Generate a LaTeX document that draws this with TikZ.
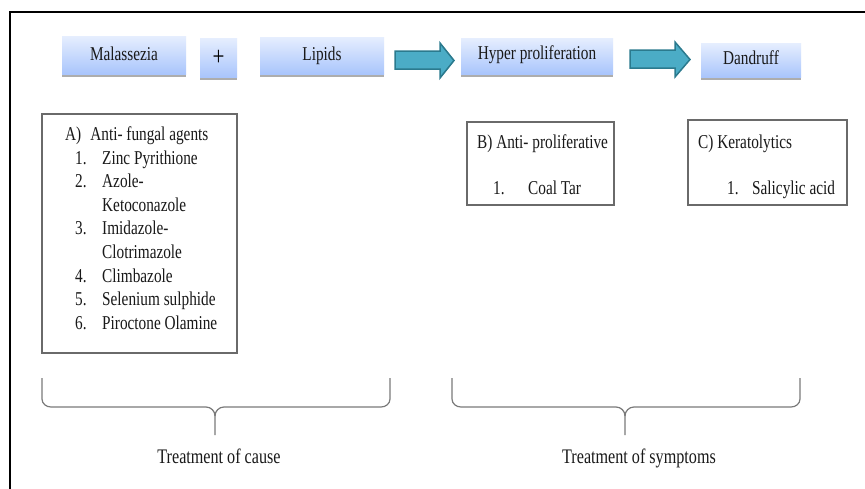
\documentclass[tikz,border=0pt]{standalone}
\usepackage{fontspec}
\setmainfont{Liberation Serif}[FakeStretch=0.78]
\usetikzlibrary{shadows}
\definecolor{boxtop}{HTML}{E6EEFE}
\definecolor{boxbot}{HTML}{A9C5FC}
\definecolor{arrfill}{HTML}{4BACC6}
\definecolor{arrdraw}{HTML}{2B7A8E}
\definecolor{framegray}{HTML}{6A6A6A}
\definecolor{bracegray}{HTML}{7A7A7A}
\begin{document}
\begin{tikzpicture}[x=1pt,y=-1pt,
  bluebox/.style={rectangle, inner sep=0pt, top color=boxtop, bottom color=boxbot,
    general shadow={fill=black!32, shadow xshift=0pt, shadow yshift=-3pt}},
  lbl/.style={inner sep=0pt, text=black!90, font=\fontsize{19.6}{23}\selectfont},
  biglbl/.style={inner sep=0pt, text=black!90, font=\fontsize{20.7}{24}\selectfont},
  listbox/.style={draw=framegray, line width=1.2pt, inner sep=0pt},
  blockarr/.style={fill=arrfill, draw=arrdraw, line width=1.5pt, line join=miter},
  brace/.style={draw=bracegray, line width=1.2pt}]
\useasboundingbox (0,0) rectangle (865,488);
\fill[white] (0,0) rectangle (865,488);
% outer frame
\draw[line width=2pt] (10,500) -- (10,12) -- (880,12);

% top flow boxes
\node[bluebox, minimum width=124pt, minimum height=38pt] (mal) at (124,55) {};
\node[lbl, anchor=base] (maltxt) at ([yshift=-5pt]mal.center) {Malassezia};
\node[bluebox, minimum width=37pt, minimum height=39pt] (plus) at (218.5,57.5) {};
\node[inner sep=0pt, font=\fontsize{27}{29}\selectfont, anchor=base] (plustxt) at ([yshift=-8pt]plus.center) {+};
\node[bluebox, minimum width=124pt, minimum height=37pt] (lip) at (322,55.5) {};
\node[lbl, anchor=base] (liptxt) at ([yshift=-4.5pt]lip.center) {Lipids};
\node[bluebox, minimum width=152pt, minimum height=36pt] (hyp) at (537,56) {};
\node[lbl, anchor=base] (hyptxt) at ([yshift=-3pt]hyp.center) {Hyper proliferation};
\node[bluebox, minimum width=100pt, minimum height=34pt] (dan) at (751,60) {};
\node[lbl, anchor=base] (dantxt) at ([yshift=-4.5pt]dan.center) {Dandruff};

% block arrows
\draw[blockarr] (395,51) -- (440,51) -- (440,43) -- (454,60.5) -- (440,78) -- (440,69) -- (395,69) -- cycle;
\draw[blockarr] (630,50) -- (675,50) -- (675,42) -- (690,59.5) -- (675,77) -- (675,68) -- (630,68) -- cycle;

% list box A
\node[listbox, minimum width=195pt, minimum height=239pt] (boxA) at (139.5,233.5) {};
\node[lbl, anchor=base west] (a0) at (65,140) {A)\hspace{9pt}Anti- fungal agents};
\node[lbl, anchor=base west] (a1n) at (75,164) {1.};
\node[lbl, anchor=base west] (a1) at (102,164) {Zinc Pyrithione};
\node[lbl, anchor=base west] (a2n) at (75,187.6) {2.};
\node[lbl, anchor=base west] (a2) at (102,187.6) {Azole-};
\node[lbl, anchor=base west] (a2b) at (102,211.2) {Ketoconazole};
\node[lbl, anchor=base west] (a3n) at (75,234.8) {3.};
\node[lbl, anchor=base west] (a3) at (102,234.8) {Imidazole-};
\node[lbl, anchor=base west] (a3b) at (102,258.4) {Clotrimazole};
\node[lbl, anchor=base west] (a4n) at (75,282) {4.};
\node[lbl, anchor=base west] (a4) at (102,282) {Climbazole};
\node[lbl, anchor=base west] (a5n) at (75,305.6) {5.};
\node[lbl, anchor=base west] (a5) at (102,305.6) {Selenium sulphide};
\node[lbl, anchor=base west] (a6n) at (75,329.2) {6.};
\node[lbl, anchor=base west] (a6) at (102,329.2) {Piroctone Olamine};

% list box B
\node[listbox, minimum width=147pt, minimum height=83pt] (boxB) at (540.5,163.5) {};
\node[lbl, anchor=base west] (b0) at (477,148) {B) Anti- proliferative};
\node[lbl, anchor=base west] (b1n) at (493,194) {1.};
\node[lbl, anchor=base west] (b1) at (528,194) {Coal Tar};

% list box C
\node[listbox, minimum width=159pt, minimum height=85pt] (boxC) at (767.5,162.5) {};
\node[lbl, anchor=base west] (c0) at (698,148) {C) Keratolytics};
\node[lbl, anchor=base west] (c1n) at (727,194) {1.};
\node[lbl, anchor=base west] (c1) at (752,194) {Salicylic acid};

% braces
\coordinate (L1) at (42,378);
\coordinate (L2) at (390,378);
\coordinate (Lt) at (215,435);
\draw[brace] (L1) -- (42,399) to[out=-90,in=180] (51,407) -- (206,407)
  to[out=0,in=90] (215,416) -- (Lt);
\draw[brace] (L2) -- (390,399) to[out=-90,in=0] (381,407) -- (224,407)
  to[out=180,in=90] (215,416);
\coordinate (R1) at (452,378);
\coordinate (R2) at (800,378);
\coordinate (Rt) at (625,435);
\draw[brace] (R1) -- (452,399) to[out=-90,in=180] (461,407) -- (616,407)
  to[out=0,in=90] (625,416) -- (Rt);
\draw[brace] (R2) -- (800,399) to[out=-90,in=0] (791,407) -- (634,407)
  to[out=180,in=90] (625,416);

\node[biglbl, anchor=base] (cause) at (219,463) {Treatment of cause};
\node[biglbl, anchor=base] (sympt) at (639,463) {Treatment of symptoms};
\end{tikzpicture}
\end{document}
